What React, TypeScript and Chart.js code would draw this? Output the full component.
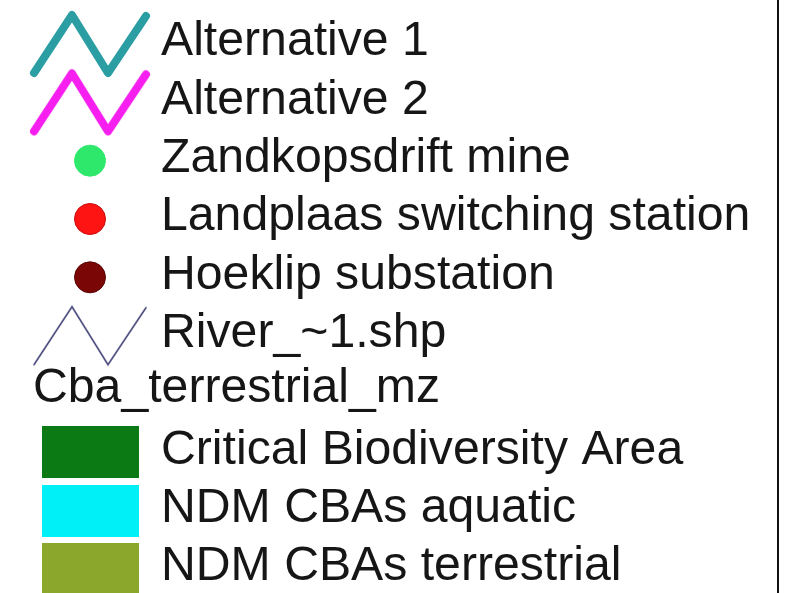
import React, { useEffect, useRef } from "react";
import { Chart, registerables } from "chart.js";

Chart.register(...registerables);

// Legend rows (top to bottom)
const rowLabels = [
  "Alternative 1",
  "Alternative 2",
  "Zandkopsdrift mine",
  "Landplaas switching station",
  "Hoeklip substation",
  "River_~1.shp",
  "",
  "Critical Biodiversity Area",
  "NDM CBAs aquatic",
  "NDM CBAs terrestrial",
];
const headingLabels = ["", "", "", "", "", "", "Cba_terrestrial_mz", "", "", ""];
const symbolKinds = ["thickZigzag", "thickZigzag", "dot", "dot", "dot", "thinZigzag", "none", "rect", "rect", "rect"];
const symbolColors = [
  "#2a9ea3",
  "#f61ff0",
  "#2ee86c",
  "#ff1414",
  "#7a0606",
  "#46467a",
  "rgba(0,0,0,0)",
  "#0b7a14",
  "#00f0f8",
  "#8ba82c",
];
const symbolBorders = [
  "#2a9ea3",
  "#f61ff0",
  "#2ee86c",
  "#c80c0c",
  "#5a0404",
  "#46467a",
  "rgba(0,0,0,0)",
  "#0b7a14",
  "#00f0f8",
  "#8ba82c",
];
const symbolColumn = [1, 1, 1, 1, 1, 1, 1, 1, 1, 1];

function makeZigzag(color: string, lineWidth: number): HTMLCanvasElement {
  const c = document.createElement("canvas");
  c.width = 130;
  c.height = 76;
  const ctx = c.getContext("2d")!;
  const cx = c.width / 2;
  const cy = c.height / 2;
  ctx.strokeStyle = color;
  ctx.lineWidth = lineWidth;
  ctx.lineCap = "round";
  ctx.lineJoin = lineWidth > 3 ? "round" : "miter";
  ctx.beginPath();
  ctx.moveTo(cx - 56, cy + 29);
  ctx.lineTo(cx - 18, cy - 29);
  ctx.lineTo(cx + 18, cy + 29);
  ctx.lineTo(cx + 56, cy - 28);
  ctx.stroke();
  return c;
}

function makeRect(color: string): HTMLCanvasElement {
  const c = document.createElement("canvas");
  c.width = 97;
  c.height = 52;
  const ctx = c.getContext("2d")!;
  ctx.fillStyle = color;
  ctx.fillRect(0, 0, c.width, c.height);
  return c;
}

export default function App() {
  const canvasRef = useRef<HTMLCanvasElement | null>(null);

  useEffect(() => {
    document.body.style.margin = "0";
    document.body.style.background = "#ffffff";
    const canvas = canvasRef.current;
    if (!canvas) return;

    const styles: any[] = symbolKinds.map((k, i) => {
      if (k === "thickZigzag") return makeZigzag(symbolColors[i], 8);
      if (k === "thinZigzag") return makeZigzag(symbolColors[i], 1.6);
      if (k === "rect") return makeRect(symbolColors[i]);
      return "circle";
    });
    const radii = symbolKinds.map((k) => (k === "dot" ? 15.5 : k === "none" ? 0 : 3));

    const font = { family: "'Liberation Sans', Arial, sans-serif", size: 48.2, lineHeight: 1 };
    const textColor = "#161616";

    const chart = new Chart(canvas, {
      type: "scatter",
      data: {
        datasets: [
          {
            label: "legend symbols",
            data: rowLabels.map((_, i) => ({ x: symbolColumn[i], y: i })),
            yAxisID: "y",
            pointStyle: styles,
            pointRadius: radii,
            pointBackgroundColor: symbolColors,
            pointBorderColor: symbolBorders,
            pointBorderWidth: 1,
            clip: false,
          } as any,
        ],
      },
      options: {
        animation: false,
        responsive: false,
        events: [],
        layout: { padding: { left: 30, top: 44, bottom: 24, right: 0 } },
        plugins: {
          legend: { display: false },
          tooltip: { enabled: false },
          title: { display: false },
        },
        scales: {
          x: { type: "linear", display: false, min: 0, max: 2 },
          y: {
            type: "category",
            labels: rowLabels,
            position: "right",
            offset: false,
            grid: { display: false, drawTicks: false },
            border: { display: false },
            ticks: {
              padding: 11,
              labelOffset: -2,
              autoSkip: false,
              font,
              color: textColor,
            },
            afterFit: (s: any) => {
              s.width = 635;
              s.paddingTop = 0;
              s.paddingBottom = 0;
            },
          },
          yh: {
            type: "category",
            labels: headingLabels,
            position: "left",
            offset: false,
            grid: { display: false, drawTicks: false },
            border: { display: false },
            ticks: {
              mirror: true,
              padding: 3,
              labelOffset: -5,
              autoSkip: false,
              font,
              color: textColor,
            },
            afterFit: (s: any) => {
              s.width = 0;
              s.paddingTop = 0;
              s.paddingBottom = 0;
            },
          },
        } as any,
      },
    });

    return () => chart.destroy();
  }, []);

  return (
    <div style={{ position: "relative", width: 785, height: 593, background: "#ffffff" }}>
      <canvas ref={canvasRef} width={785} height={593} style={{ display: "block" }} />
      <div
        style={{
          position: "absolute",
          left: 777,
          top: 0,
          width: 2,
          height: 593,
          background: "#111111",
        }}
      />
    </div>
  );
}
